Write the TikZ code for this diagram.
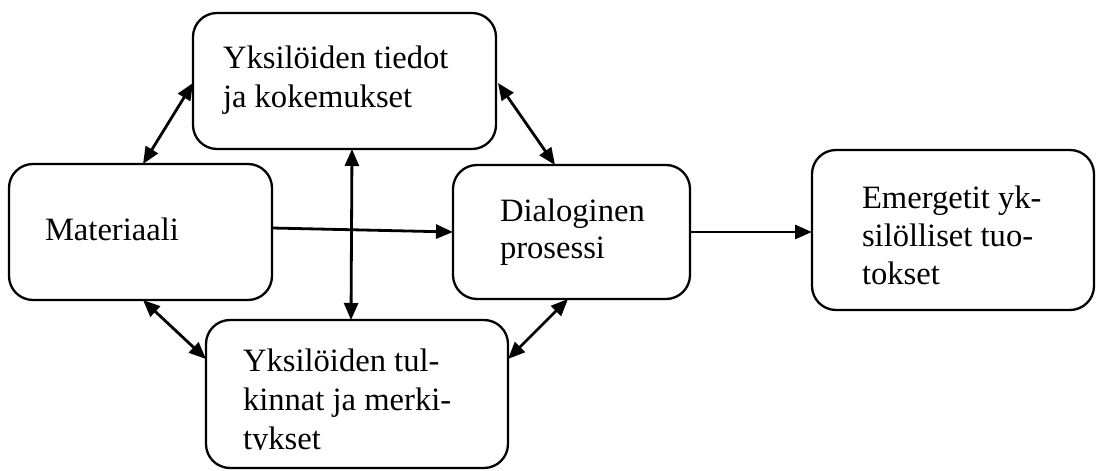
\documentclass[tikz,border=0pt]{standalone}
\usepackage{fontspec}
\setmainfont{Liberation Serif}
\usetikzlibrary{calc,arrows.meta}
\begin{document}
\begin{tikzpicture}[x=1pt,y=1pt,
  box/.style={draw=black,line width=2.3pt,rounded corners=24pt,inner sep=0pt,outer sep=0pt},
  txt/.style={anchor=base west,inner sep=0pt,outer sep=0pt,font=\fontsize{32.6}{39}\selectfont},
  conn/.style={line width=2.8pt,-{Triangle[length=17pt,width=14pt]}},
  biconn/.style={line width=2.8pt,{Triangle[length=17pt,width=14pt]}-{Triangle[length=17pt,width=14pt]}}]
\useasboundingbox (0,0) rectangle (1098,471);
% boxes
\node[box,minimum width=303pt,minimum height=136pt] (T) at (344.5,390) {};
\node[box,minimum width=263pt,minimum height=136pt] (M) at (140.5,239) {};
\node[box,minimum width=237pt,minimum height=134pt] (D) at (571.5,239) {};
\node[box,minimum width=282pt,minimum height=160pt] (E) at (953,241) {};
\node[box,minimum width=302pt,minimum height=148pt] (B) at (357,77) {};
% texts
\node[txt] (t1) at (223,402) {Yksilöiden tiedot};
\node[txt] (t2) at (223,363) {ja kokemukset};
\node[txt] (m1) at (45,230) {Materiaali};
\node[txt] (d1) at (500,249) {Dialoginen};
\node[txt] (d2) at (500,212) {prosessi};
\node[txt] (e1) at (862,262) {Emergetit yk-};
\node[txt] (e2) at (862,224) {silölliset tuo-};
\node[txt] (e3) at (862,186) {tokset};
\node[txt] (b1) at (243,99) {Yksilöiden tul-};
\node[txt] (b2) at (243,60) {kinnat ja merki-};
\begin{scope}
  \clip (230,21) rectangle (480,59);
  \node[txt] (b3) at (243,21) {tykset};
\end{scope}
% connectors
\draw[biconn] ($(M.north west)+(134,0)$) -- ($(T.west)+(0,-2)$);
\draw[biconn] ($(T.east)+(2,-2)$) -- ($(D.north west)+(102,0)$);
\draw[biconn] ($(T.south west)+(159,0)$) -- ($(B.north west)+(145,0)$);
\draw[conn] ($(M.east)+(0,4)$) -- (D.west);
\draw[biconn] ($(M.south west)+(134,0)$) -- ($(B.north west)+(0,-39)$);
\draw[biconn] ($(D.south west)+(115,0)$) -- ($(B.north east)+(0,-39)$);
\draw[conn] (D.east) -- (E.west |- D.east);
\end{tikzpicture}
\end{document}
